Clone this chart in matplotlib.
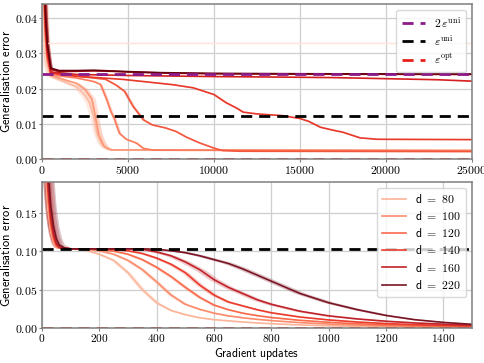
import numpy as np
import matplotlib
matplotlib.use("Agg")
import matplotlib.pyplot as plt
from matplotlib.ticker import FuncFormatter, MultipleLocator

plt.rcParams['mathtext.fontset'] = 'cm'
plt.rcParams['font.family'] = ['DejaVu Sans']

# ---------------- top panel data ----------------
eps_uni_top = 0.0121
eps_opt_top = 0.0

top_x_a = [0, 100, 200, 300, 500, 1000, 1500, 2000, 2500, 2750, 3000, 3200, 3450, 3800, 4200, 25000]
top_y_a = [0.07, 0.045, 0.033, 0.027, 0.0235, 0.0225, 0.0215, 0.0205, 0.018, 0.016, 0.012, 0.0075, 0.0045, 0.0028, 0.0025, 0.0025]

top_x_b = [0, 100, 200, 300, 500, 1000, 1500, 2000, 2500, 2900, 3100, 3300, 3600, 4000, 25000]
top_y_b = [0.075, 0.046, 0.034, 0.028, 0.0238, 0.023, 0.0222, 0.0215, 0.0198, 0.017, 0.012, 0.0068, 0.0036, 0.0026, 0.0024]

top_x_c = [0, 100, 200, 300, 500, 1000, 2000, 3000, 3400, 3750, 4000, 4200, 4500, 4900, 5500, 5900, 6500, 25000]
top_y_c = [0.08, 0.047, 0.035, 0.029, 0.0242, 0.0236, 0.023, 0.022, 0.0212, 0.017, 0.0135, 0.0115, 0.0073, 0.0056, 0.0045, 0.003, 0.0025, 0.0023]

top_x_d = [0, 100, 200, 300, 500, 1000, 2000, 3000, 3700, 4300, 4800, 5300, 5900, 6400, 7200, 7800, 8400, 9200, 10000, 10500, 11500, 25000]
top_y_d = [0.085, 0.048, 0.036, 0.029, 0.0245, 0.024, 0.0235, 0.023, 0.0226, 0.021, 0.0192, 0.0149, 0.0111, 0.0097, 0.0088, 0.0078, 0.0062, 0.0045, 0.0031, 0.0024, 0.0022, 0.0021]

top_x_e = [0, 100, 200, 300, 500, 2000, 4700, 7600, 8800, 10000, 10700, 11300, 11700, 12500, 14000, 15000, 15500, 16200, 17000, 17500, 18500, 19500, 25000]
top_y_e = [0.09, 0.05, 0.037, 0.03, 0.0245, 0.0235, 0.0226, 0.0211, 0.0202, 0.0183, 0.016, 0.0145, 0.0133, 0.0128, 0.0123, 0.0115, 0.0107, 0.009, 0.0081, 0.0076, 0.006, 0.0056, 0.0055]

top_x_f = [0, 100, 200, 300, 500, 2000, 5000, 10000, 15000, 17000, 20000, 23000, 25000]
top_y_f = [0.095, 0.052, 0.038, 0.031, 0.0247, 0.024, 0.0237, 0.0234, 0.0232, 0.0231, 0.0228, 0.0225, 0.0221]

top_x_g = [0, 100, 200, 300, 500, 1000, 2000, 3000, 4000, 5000, 7000, 10000, 15000, 25000]
top_y_g = [0.1, 0.055, 0.04, 0.032, 0.0255, 0.0248, 0.0249, 0.025, 0.0249, 0.0247, 0.0244, 0.0242, 0.0241, 0.024]

top_x_h = [0, 100, 200, 300, 500, 1000, 2000, 3000, 4000, 5000, 7000, 10000, 15000, 25000]
top_y_h = [0.1, 0.056, 0.041, 0.033, 0.0258, 0.0251, 0.0251, 0.0252, 0.025, 0.0248, 0.0245, 0.0243, 0.0242, 0.0241]

top_x_faint = [0, 25000]
top_y_faint = [0.0328, 0.0328]

top_colors = ['#fcbba1', '#fc9878', '#fb7b5b', '#f4563d', '#e8382a', '#d42020', '#a50f15', '#67000d']
top_band_dx = [250, 200, 100, 100, 100, 100, 100, 100]

# ---------------- bottom panel data ----------------
eps_uni_bot = 0.103
bot_x = [0, 10, 20, 30, 40, 50, 60, 80, 100, 150, 200, 250, 300, 350, 400, 450, 500,
         550, 600, 650, 700, 750, 800, 900, 1000, 1100, 1200, 1300, 1400, 1500]
bot_d80 = [0.40, 0.22, 0.155, 0.125, 0.11, 0.105, 0.104, 0.1035, 0.103, 0.1015, 0.096, 0.088, 0.072, 0.050, 0.033, 0.023, 0.0175,
           0.0135, 0.011, 0.0095, 0.008, 0.0068, 0.0058, 0.0042, 0.0031, 0.0023, 0.0017, 0.0013, 0.001, 0.0008]
bot_d100 = [0.42, 0.25, 0.165, 0.13, 0.113, 0.106, 0.104, 0.1035, 0.103, 0.1025, 0.1005, 0.096, 0.088, 0.076, 0.060, 0.043, 0.031,
            0.0245, 0.0195, 0.016, 0.0135, 0.0115, 0.0098, 0.0072, 0.0053, 0.004, 0.003, 0.0023, 0.0018, 0.0014]
bot_d120 = [0.44, 0.27, 0.175, 0.135, 0.116, 0.107, 0.104, 0.1035, 0.103, 0.103, 0.102, 0.100, 0.096, 0.089, 0.079, 0.067, 0.053,
            0.040, 0.030, 0.024, 0.0195, 0.0163, 0.0138, 0.0102, 0.0076, 0.0057, 0.0043, 0.0033, 0.0026, 0.002]
bot_d140 = [0.45, 0.29, 0.185, 0.14, 0.119, 0.108, 0.105, 0.1035, 0.103, 0.103, 0.103, 0.102, 0.1005, 0.097, 0.091, 0.083, 0.072,
            0.056, 0.043, 0.034, 0.029, 0.024, 0.020, 0.0145, 0.0107, 0.008, 0.006, 0.0046, 0.0036, 0.0028]
bot_d160 = [0.46, 0.30, 0.19, 0.145, 0.122, 0.11, 0.105, 0.1035, 0.103, 0.103, 0.103, 0.103, 0.103, 0.1025, 0.099, 0.094, 0.086,
            0.076, 0.063, 0.053, 0.045, 0.037, 0.031, 0.022, 0.016, 0.012, 0.009, 0.0068, 0.0052, 0.004]
bot_d220 = [0.50, 0.33, 0.21, 0.16, 0.132, 0.116, 0.108, 0.104, 0.103, 0.103, 0.103, 0.103, 0.103, 0.103, 0.1025, 0.1005, 0.098,
            0.094, 0.089, 0.084, 0.077, 0.069, 0.061, 0.045, 0.033, 0.024, 0.0165, 0.011, 0.0075, 0.005]
bot_labels = ['d = 80', 'd = 100', 'd = 120', 'd = 140', 'd = 160', 'd = 220']
bot_colors = ['#fcb499', '#fc8b6b', '#f96a4b', '#ea3a2b', '#c0222a', '#7a1424']
bot_band_dx = [10, 10, 10, 12, 18, 20]

# ---------------- figure ----------------
fig = plt.figure(figsize=(4.84, 3.63), dpi=100)
ax1 = fig.add_axes([0.087, 0.562, 0.888, 0.427])
ax2 = fig.add_axes([0.087, 0.096, 0.888, 0.403])

tick_fmt2 = FuncFormatter(lambda v, p: f'${v:.2f}$')
tick_fmt0 = FuncFormatter(lambda v, p: f'${v:.0f}$')


def style(ax):
    ax.grid(True, color='#cfcfcf', lw=0.9)
    ax.set_axisbelow(True)
    for s in ax.spines.values():
        s.set_color('#7f7f7f')
        s.set_linewidth(1.1)
    ax.tick_params(labelsize=8.5, length=2.5, width=0.8, color='#7f7f7f', pad=1)
    ax.yaxis.set_major_formatter(tick_fmt2)
    ax.xaxis.set_major_formatter(tick_fmt0)


def band(ax, x, y, dx, color, alpha):
    x = np.asarray(x, float)
    y = np.asarray(y, float)
    xs = np.linspace(x[0], x[-1], 2000)
    yl = np.interp(xs - dx, x, y)
    yr = np.interp(xs + dx, x, y)
    ax.fill_between(xs, np.minimum(yl, yr), np.maximum(yl, yr), color=color, alpha=alpha, lw=0)


# top
top_curves = [(top_x_a, top_y_a), (top_x_b, top_y_b), (top_x_c, top_y_c), (top_x_d, top_y_d),
              (top_x_e, top_y_e), (top_x_f, top_y_f), (top_x_g, top_y_g), (top_x_h, top_y_h)]
ax1.plot(top_x_faint, top_y_faint, color='#fde3d8', lw=1.0)
for (x, y), c, dx in zip(top_curves, top_colors, top_band_dx):
    band(ax1, x, y, dx, c, 0.3)
    ax1.plot(x, y, color=c, lw=1.2)
ax1.axhline(2 * eps_uni_top, color='#8b1a8b', ls=(0, (4, 2.5)), lw=2.0, label=r'$2\,\varepsilon^{\rm uni}$')
ax1.axhline(eps_uni_top, color='black', ls=(0, (4, 2.5)), lw=2.0, label=r'$\varepsilon^{\rm uni}$')
ax1.axhline(eps_opt_top, color='#e8201c', ls=(0, (4, 2.5)), lw=2.0, label=r'$\varepsilon^{\rm opt}$')
ax1.set_xlim(0, 25000)
ax1.set_ylim(0, 0.044)
ax1.xaxis.set_major_locator(MultipleLocator(5000))
ax1.yaxis.set_major_locator(MultipleLocator(0.01))
style(ax1)
ax1.set_ylabel(r'$\mathsf{Generalisation\ error}$', fontsize=9, labelpad=1)
ax1.legend(loc='upper right', fontsize=8.5, handlelength=2.0, borderpad=0.45, labelspacing=0.3,
           handletextpad=0.7, edgecolor='#d0d0d0', fancybox=True)

# bottom
for y, c, dx, lab in zip([bot_d80, bot_d100, bot_d120, bot_d140, bot_d160, bot_d220],
                         bot_colors, bot_band_dx, bot_labels):
    band(ax2, bot_x, y, dx, c, 0.25)
    ax2.plot(bot_x, y, color=c, lw=1.2, label=r'$\mathsf{' + lab.replace(' ', r'\ ') + '}$')
ax2.axhline(eps_uni_bot, color='black', ls=(0, (4, 2.5)), lw=2.0)
ax2.axhline(0.0, color='#d7301f', ls=(0, (4, 2.5)), lw=2.0)
ax2.set_xlim(0, 1500)
ax2.set_ylim(0, 0.19)
ax2.xaxis.set_major_locator(MultipleLocator(200))
ax2.yaxis.set_major_locator(MultipleLocator(0.05))
style(ax2)
ax2.tick_params(axis='x', pad=0.5, labelsize=8.2)
ax2.set_ylabel(r'$\mathsf{Generalisation\ error}$', fontsize=9, labelpad=1)
fig.text(0.531, 0.004, r'$\mathsf{Gradient\ updates}$', fontsize=8.5, ha='center', va='bottom')
ax2.legend(loc='upper right', fontsize=8.5, handlelength=2.0, borderpad=0.45, labelspacing=0.35,
           handletextpad=0.8, edgecolor='#d0d0d0', fancybox=True)

fig.savefig('out.png', dpi=100)
